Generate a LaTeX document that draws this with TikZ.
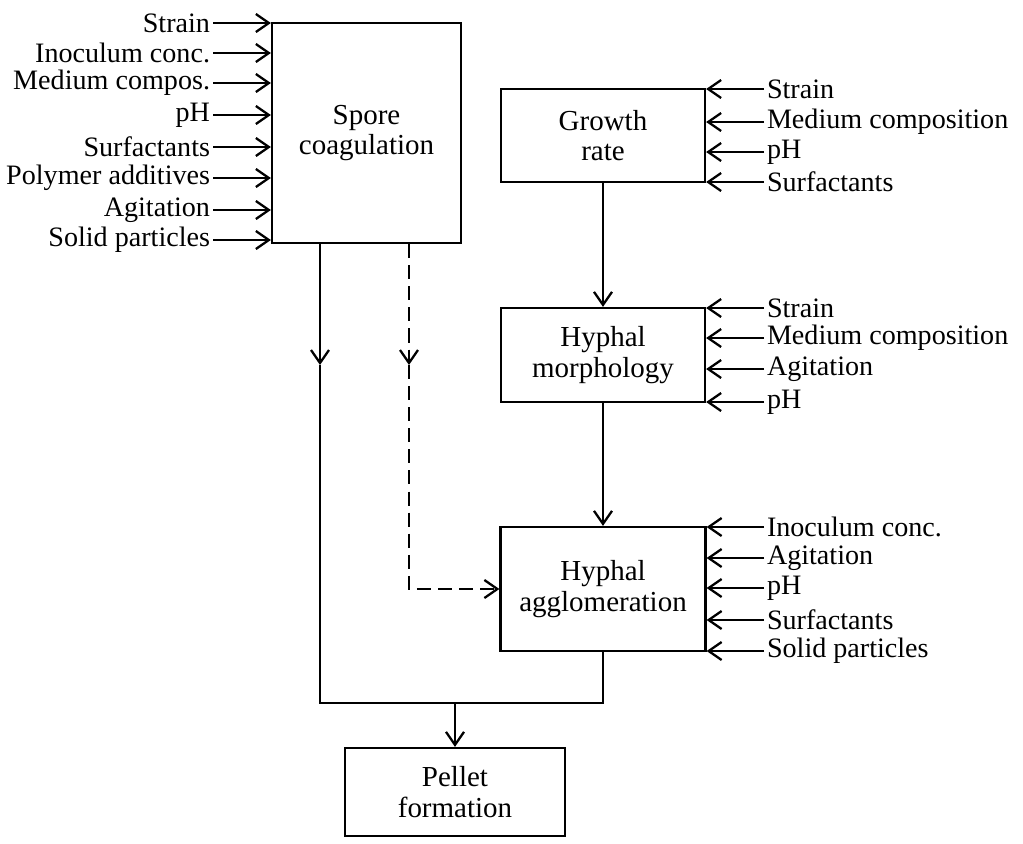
\documentclass[tikz,border=0pt]{standalone}
\usepackage{fontspec}
\setmainfont{Liberation Serif}
\usetikzlibrary{arrows.meta,positioning}
\tikzset{
  procbox/.style={draw, line width=1.3pt, align=center, inner sep=0pt,
    font=\fontsize{16.5}{17.5}\selectfont},
  inlabel/.style={inner sep=1.5pt, font=\fontsize{16}{17.5}\selectfont},
  arr/.style={-{Straight Barb[length=2.6mm,width=3.6mm]}, line width=1.3pt},
  dasharr/.style={arr, dash pattern=on 8pt off 4pt}
}
\begin{document}
\begin{tikzpicture}[x=0.02cm, y=-0.02cm]
    \useasboundingbox (0,0) rectangle (1023,843);
    \node[procbox, minimum width=3.78cm, minimum height=4.4cm] (spore) at (366.5,133) {Spore\\coagulation};
    \node[procbox, minimum width=4.08cm, minimum height=1.86cm] (growth) at (603,135.5) {Growth\\rate};
    \node[procbox, minimum width=4.08cm, minimum height=1.88cm] (morph) at (603,355) {Hyphal\\morphology};
    \node[procbox, minimum width=4.1cm, minimum height=2.48cm] (agglom) at (603,589) {Hyphal\\agglomeration};
    \node[procbox, minimum width=4.4cm, minimum height=1.76cm] (pellet) at (455,792) {Pellet\\formation};
    % inputs
    \foreach \y/\t [count=\i] in {23/Strain, 53/Inoculum conc., 83/Medium compos., 115/pH,
        147/Surfactants, 178/Polymer additives, 210/Agitation, 240/Solid particles} {
      \node[inlabel, anchor=east] (sl\i) at (213,\y) {\t};
      \draw[arr] (sl\i.east) -- (sl\i.east -| spore.west);
    }
    \foreach \y/\t [count=\i] in {89/Strain, 122/Medium composition, 152/pH, 182/Surfactants} {
      \node[inlabel, anchor=west] (gl\i) at (764,\y) {\t};
      \draw[arr] (gl\i.west) -- (gl\i.west -| growth.east);
    }
    \foreach \y/\t [count=\i] in {308/Strain, 338/Medium composition, 369/Agitation, 402/pH} {
      \node[inlabel, anchor=west] (ml\i) at (764,\y) {\t};
      \draw[arr] (ml\i.west) -- (ml\i.west -| morph.east);
    }
    \foreach \y/\t [count=\i] in {527/Inoculum conc., 558/Agitation, 588/pH, 620/Surfactants, 651/Solid particles} {
      \node[inlabel, anchor=west] (al\i) at (764,\y) {\t};
      \draw[arr] (al\i.west) -- (al\i.west -| agglom.east);
    }
    % flow
    \draw[arr] (growth) -- (morph);
    \draw[arr] (morph) -- (agglom);
    \coordinate (sp) at (320,365);
    \coordinate (dm) at (409,365);
    \coordinate (join) at (455,703);
    \draw[arr] (spore.south -| sp) -- (sp);
    \draw[line width=1.3pt] (sp) |- (join) -| (agglom.south);
    \draw[arr] (join) -- (pellet.north);
    \draw[dasharr] (spore.south -| dm) -- (dm);
    \draw[dasharr] (dm) |- (agglom.west);
\end{tikzpicture}
\end{document}
